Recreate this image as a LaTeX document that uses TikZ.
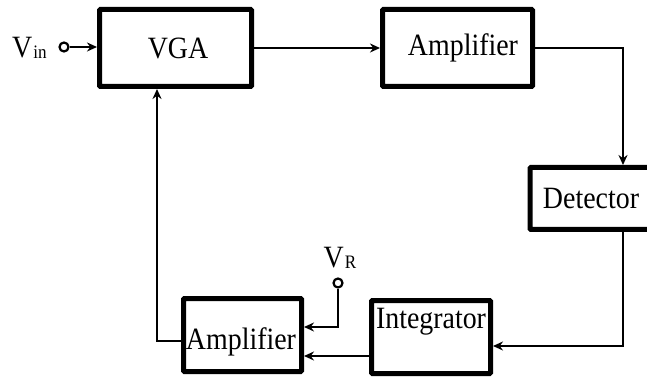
\documentclass[tikz,border=0pt]{standalone}
\usepackage{fontspec}
\setmainfont{Liberation Serif}[FakeStretch=0.9]
\usetikzlibrary{arrows.meta}
\begin{document}
\begin{tikzpicture}[x=1pt,y=-1pt,
  blk/.style={draw,line width=5pt,rounded corners=1pt,inner sep=0pt},
  lbl/.style={font=\fontsize{31}{33}\selectfont,inner sep=0pt},
  wire/.style={line width=2.4pt},
  arr/.style={wire,-{Stealth[length=10pt,width=9pt]}},
  term/.style={circle,draw,line width=2.2pt,fill=white,minimum size=9pt,inner sep=0pt}]
\useasboundingbox (0,0) rectangle (647,379);
\clip (0,0) rectangle (647,379);
% blocks
\node[blk,minimum width=152pt,minimum height=77pt] (vga) at (175.5,48) {};
\node[blk,minimum width=150pt,minimum height=77pt] (amp1) at (457.5,48) {};
\node[blk,minimum width=124pt,minimum height=62pt] (det) at (592,198.5) {};
\node[blk,minimum width=119pt,minimum height=73pt] (int) at (431,337) {};
\node[blk,minimum width=118pt,minimum height=73pt] (amp2) at (242.5,335) {};
% texts
\node[lbl] (tvga) at (178,48) {VGA};
\node[lbl] (tamp1) at (463,48) {Amplifier};
\node[lbl] (tdet) at (591,199) {Detector};
\node[lbl] (tint) at (431,322) {Integrator};
\node[lbl] (tamp2) at (241,342) {Amplifier};
% terminals
\node[lbl,anchor=base west] (vin) at (12,58) {V\kern1pt\raisebox{-1pt}{\fontsize{19}{20}\selectfont in}};
\node[term] (cin) at (64,47) {};
\node[lbl,anchor=base] (vr) at (340,267) {V\kern1pt\raisebox{-1pt}{\fontsize{19}{20}\selectfont R}};
\node[term] (cr) at (338,283) {};
% connectors
\coordinate (d1) at (623,346);
\draw[arr] (cin.east) -- (vga.west |- cin);
\draw[arr] (vga.east) -- (amp1.west);
\draw[arr] (amp1.east) -| (det.north -| d1);
\draw[arr] (det.south -| d1) -- (d1) -- (int.east |- d1);
\coordinate (r1) at (338,327);
\draw[arr] (cr.south) -- (r1) -- (amp2.east |- r1);
\coordinate (i1) at (0,356);
\draw[arr] (int.west |- i1) -- (amp2.east |- i1);
\coordinate (f1) at (157,341);
\draw[arr] (amp2.west |- f1) -- (f1) -- (f1 |- vga.south);
\end{tikzpicture}
\end{document}
